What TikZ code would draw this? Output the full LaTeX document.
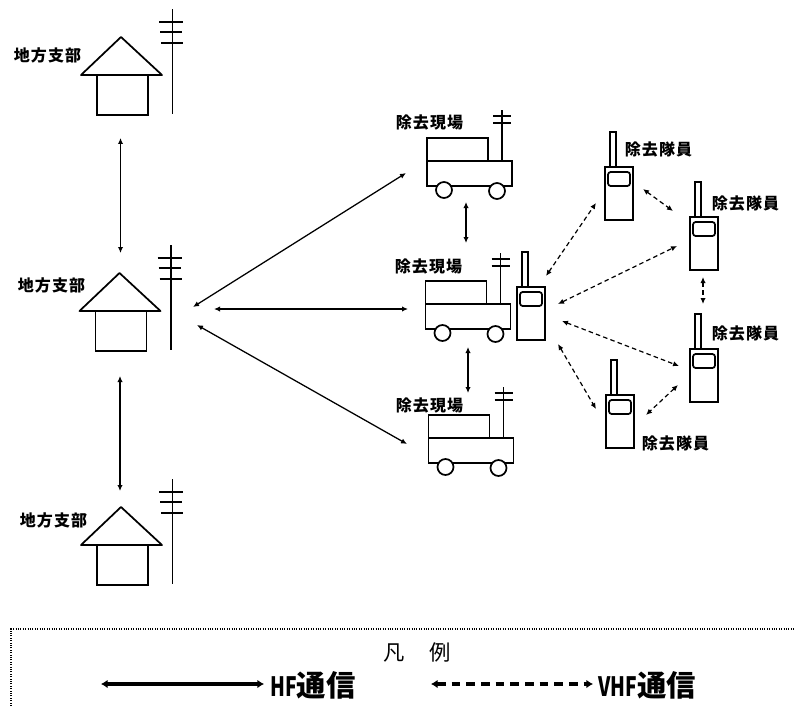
\documentclass[tikz,border=0pt]{standalone}
\usepackage{fontspec}
\usetikzlibrary{arrows.meta}
\newfontfamily\cjkfont{Noto Sans CJK JP}
\newfontfamily\cjklabel[LetterSpace=7]{Noto Sans CJK JP}
\newfontfamily\keyfont[FakeStretch=0.72]{Noto Sans CJK JP}
\tikzset{
  >={Latex[length=4.5pt,width=4pt]},
  hfline/.style={<->, line width=0.95pt},
  vhfline/.style={<->, line width=0.9pt, dash pattern=on 3.4pt off 2.4pt},
  keyline/.style={<->, line width=2.4pt, >={Latex[length=5pt,width=6.5pt]}},
  keytext/.style={font=\cjkfont\bfseries\fontsize{22pt}{24pt}\selectfont, inner sep=0pt, anchor=west},
  place/.style={font=\cjklabel\bfseries\fontsize{12pt}{14pt}\selectfont, inner sep=0pt},
  part/.style={line width=1.3pt, line cap=rect},
  house/.pic={
    \draw[part, line join=round] (-40,38) -- (0,0) -- (41,38) -- cycle;
    \draw[part] (-24,38) rectangle (27,78);
    \draw[part] (51.5,-27) -- (51.5,76);
    \draw[line width=1pt] (38,-15) -- (62,-15) (39,-5) -- (61,-5) (40,6) -- (62,6);
  },
  truck/.pic={
    \draw[part] (0,0) rectangle (61,23);
    \draw[part, fill=white] (0,23) rectangle (85,48);
    \draw[part, fill=white] (17,52) circle (8);
    \draw[part, fill=white] (70,53) circle (8);
    \draw[part] (75,-27) -- (75,23);
    \draw[line width=1pt] (66,-22) -- (84,-22) (66,-15) -- (84,-15);
  },
  radio/.pic={
    \draw[part] (0,0) rectangle (28,53);
    \draw[part] (5,-35) rectangle (11,0);
    \draw[part, rounded corners=2pt] (3,5) rectangle (25,19);
  }
}
\begin{document}
\begin{tikzpicture}[x=0.75pt, y=-0.75pt]
\useasboundingbox (0,0) rectangle (795,706);

% Branch offices
\pic at (121,37) {house};
\pic at (119.5,273) {house};
\pic at (121,507) {house};
\node[place] (office1) at (47.5,55) {地方支部};
\node[place] (office2) at (51.5,285) {地方支部};
\node[place] (office3) at (53.5,520) {地方支部};

% Sites
\pic at (427,138) {truck};
\pic at (425.5,281) {truck};
\pic at (428.5,415) {truck};
\node[place] (site1) at (429.5,123) {除去現場};
\node[place] (site2) at (428.5,266) {除去現場};
\node[place] (site3) at (429.5,405) {除去現場};

% Radios
\pic at (517,287) {radio};
\pic at (605,167) {radio};
\pic at (690,217) {radio};
\pic at (690,349) {radio};
\pic at (606,395) {radio};
\node[place] (member1) at (658.5,150) {除去隊員};
\node[place] (member2) at (745.5,203) {除去隊員};
\node[place] (member3) at (745.5,333) {除去隊員};
\node[place] (member4) at (675.5,443) {除去隊員};

% Connector ends
\coordinate (hA) at (120.5,138);
\coordinate (hB) at (120.5,253);
\coordinate (hC) at (120,376);
\coordinate (hD) at (120,491);
\coordinate (hE) at (193,307);
\coordinate (hF) at (406,173);
\coordinate (hG) at (214,309);
\coordinate (hH) at (408,309);
\coordinate (hI) at (197,325);
\coordinate (hJ) at (407,444);
\coordinate (hK) at (466,202);
\coordinate (hL) at (466,243);
\coordinate (hM) at (468,347);
\coordinate (hN) at (468,393);
\coordinate (vA) at (546,276);
\coordinate (vB) at (596,203);
\coordinate (vC) at (558,304);
\coordinate (vD) at (677,246);
\coordinate (vE) at (562,321);
\coordinate (vF) at (679,366);
\coordinate (vG) at (558,344);
\coordinate (vH) at (596,409);
\coordinate (vI) at (643,189);
\coordinate (vJ) at (673,211);
\coordinate (vK) at (703,277);
\coordinate (vL) at (703,304);
\coordinate (vM) at (678,385);
\coordinate (vN) at (646,415);

% HF links
\draw[hfline] (hA) -- (hB);
\draw[hfline] (hC) -- (hD);
\draw[hfline] (hE) -- (hF);
\draw[hfline] (hG) -- (hH);
\draw[hfline] (hI) -- (hJ);
\draw[hfline] (hK) -- (hL);
\draw[hfline] (hM) -- (hN);

% VHF links
\draw[vhfline] (vA) -- (vB);
\draw[vhfline] (vC) -- (vD);
\draw[vhfline] (vE) -- (vF);
\draw[vhfline] (vG) -- (vH);
\draw[vhfline] (vI) -- (vJ);
\draw[vhfline] (vK) -- (vL);
\draw[vhfline] (vM) -- (vN);

% Legend
\coordinate (frameA) at (11,706);
\coordinate (frameB) at (11,629);
\coordinate (frameC) at (795,629);
\draw[densely dotted, line width=0.8pt] (frameA) -- (frameB) -- (frameC);
\node[font=\cjkfont\fontsize{16pt}{18pt}\selectfont, inner sep=0pt] (legend) at (417,652) {凡\hspace{19pt}例};
\coordinate (keyA) at (101,684);
\coordinate (keyB) at (264,684);
\coordinate (keyC) at (431,684);
\coordinate (keyD) at (593,684);
\draw[keyline] (keyA) -- (keyB);
\draw[keyline, dash pattern=on 6.5pt off 4.5pt] (keyC) -- (keyD);
\node[keytext] (hfkey) at (270,685) {{\keyfont\bfseries\fontsize{20pt}{24pt}\selectfont HF}通信};
\node[keytext] (vhfkey) at (598,685) {{\keyfont\bfseries\fontsize{20pt}{24pt}\selectfont VHF}通信};
\end{tikzpicture}
\end{document}
